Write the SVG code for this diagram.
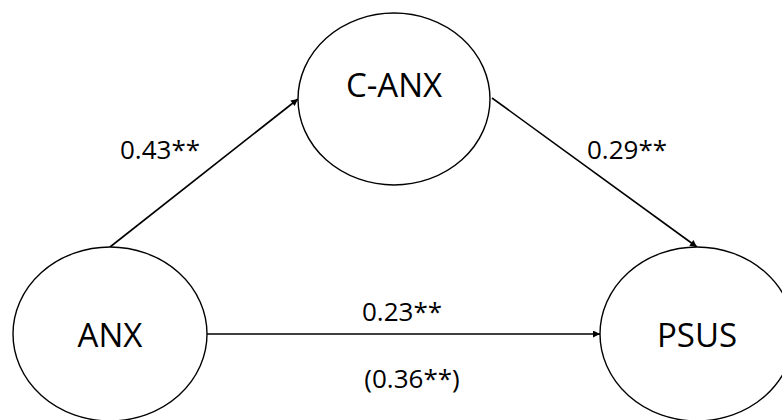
<svg xmlns="http://www.w3.org/2000/svg" width="782" height="420" viewBox="0 0 782 420">
  <style>
    .node { fill: #ffffff; stroke: #000000; stroke-width: 1.4; }
    .name { font-family: "Open Sans", "Liberation Sans", sans-serif; font-size: 33px; fill: #000000; text-anchor: middle; }
    .coef { font-family: "Open Sans", "Liberation Sans", sans-serif; font-size: 26px; fill: #000000; text-anchor: middle; }
    .edge { fill: none; stroke: #000000; stroke-width: 1.6; marker-end: url(#arrow); }
  </style>
  <defs>
    <marker id="arrow" viewBox="0 0 10 10" refX="10" refY="5" markerWidth="9" markerHeight="7" markerUnits="userSpaceOnUse" orient="auto">
      <path d="M0,0 L10,5 L0,10 Z" fill="#000000"/>
    </marker>
  </defs>
  <rect width="782" height="420" fill="#ffffff"/>

  <g id="connectors">
    <line class="edge" x1="110" y1="247" x2="298" y2="99"/>
    <line class="edge" x1="492" y1="98" x2="697" y2="247"/>
    <line class="edge" x1="207" y1="334" x2="600" y2="334"/>
  </g>

  <g id="node-c-anx">
    <ellipse class="node" cx="394" cy="99" rx="96" ry="86"/>
    <text class="name" x="394" y="97">C-ANX</text>
  </g>

  <g id="node-anx">
    <ellipse class="node" cx="110" cy="334" rx="97" ry="87"/>
    <text class="name" x="110" y="347">ANX</text>
  </g>

  <g id="node-psus">
    <ellipse class="node" cx="697" cy="334" rx="97" ry="87"/>
    <text class="name" x="697" y="347">PSUS</text>
  </g>

  <g id="labels">
    <text class="coef" x="160" y="159">0.43**</text>
    <text class="coef" x="627" y="159">0.29**</text>
    <text class="coef" x="402" y="321">0.23**</text>
    <text class="coef" x="412" y="388">(0.36**)</text>
  </g>
</svg>
